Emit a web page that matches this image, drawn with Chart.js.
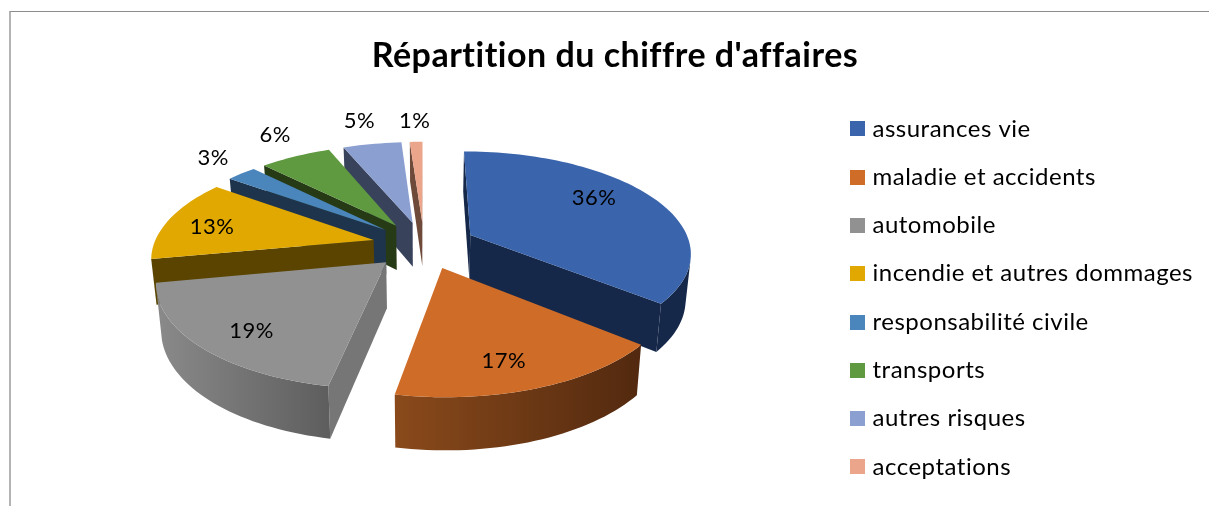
<!DOCTYPE html>
<html lang="fr">
<head>
  <meta charset="UTF-8">
  <title>Répartition du chiffre d'affaires</title>
  <script src="https://cdn.jsdelivr.net/npm/chart.js"></script>
  <style>
    html, body { margin: 0; padding: 0; background: #fff; overflow: hidden; }
    .frame {
      position: absolute; left: 9px; top: 11px; width: 1200px; height: 495px;
      border-left: 2px solid #b4b4b4; border-top: 1px solid #8c8c8c;
    }
    canvas { display: block; }
  </style>
</head>
<body>
  <div class="frame"><canvas id="caChart" width="1198" height="494"></canvas></div>

  <script>
    const categories = ['assurances vie', 'maladie et accidents', 'automobile', 'incendie et autres dommages',
      'responsabilité civile', 'transports', 'autres risques', 'acceptations'];
    // the labels below are the rounded ones printed on the chart
    const values = [36, 17, 19, 13, 2.6, 6.2, 5.1, 1.1];
    const percentLabels = ['36%', '17%', '19%', '13%', '3%', '6%', '5%', '1%'];

    const topColors = ['#3A64AC', '#CE6C28', '#919191', '#E0A800', '#4A85BB', '#5F9940', '#8B9FD1', '#EBA58A'];
    const cutColors = ['#16284A', '#542A0F', '#767676', '#5A4400', '#1E344D', '#263A15', '#38425B', '#6E4A3A'];
    // outer wall, left and right end of the gradient
    const wallColors = [
      ['#16284A', '#16284A'], ['#8A4A1B', '#52290F'], ['#8A8A8A', '#5E5E5E'], ['#5A4400', '#5A4400'],
      ['#1E344D', '#1E344D'], ['#263A15', '#263A15'], ['#38425B', '#38425B'], ['#6E4A3A', '#6E4A3A']
    ];
    // where the percent goes, as [distance from centre, turn in degrees] in pie units
    const labelSpots = [[215, -6], [225, 2.4], [225, -2.7], [222, -2], [332, 1.7], [345, 1.9], [350, -0.2], [340, 0]];

    // 3D view, canvas origin is at (11,12) in the page
    const view = { cx: 413, cy: 233, radius: 220, explode: 52, tilt: 0.455, persp: 0.00073, depth: 46, far: 0.02 };

    function project(x, y, bottom) {
      const w = (1 - view.persp * y) * (bottom ? 1 + view.far : 1);
      return { x: view.cx + x / w, y: view.cy + (view.tilt * y + (bottom ? view.depth : 0)) / w };
    }

    function quad(ctx, pts) {
      ctx.beginPath();
      pts.forEach((p, i) => (i ? ctx.lineTo(p.x, p.y) : ctx.moveTo(p.x, p.y)));
      ctx.closePath();
    }

    function area(pts) {
      let s = 0;
      pts.forEach((p, i) => {
        const q = pts[(i + 1) % pts.length];
        s += p.x * q.y - q.x * p.y;
      });
      return s;
    }

    function drawSlice(ctx, arc, i) {
      const mid = (arc.startAngle + arc.endAngle) / 2;
      const ox = Math.cos(mid) * view.explode;
      const oy = Math.sin(mid) * view.explode;
      const rimPoint = (a, bottom) =>
        project(ox + Math.cos(a) * view.radius, oy + Math.sin(a) * view.radius, bottom);

      const steps = Math.max(2, Math.ceil((arc.endAngle - arc.startAngle) / 0.03));
      const angles = [];
      for (let s = 0; s <= steps; s++) angles.push(arc.startAngle + (arc.endAngle - arc.startAngle) * s / steps);

      // cut faces
      const apexT = project(ox, oy, false);
      const apexB = project(ox, oy, true);
      ctx.fillStyle = cutColors[i];
      const a = [rimPoint(arc.startAngle, false), apexT, apexB, rimPoint(arc.startAngle, true)];
      if (area(a) > 0) { quad(ctx, a); ctx.fill(); }
      const b = [apexT, rimPoint(arc.endAngle, false), rimPoint(arc.endAngle, true), apexB];
      if (area(b) > 0) { quad(ctx, b); ctx.fill(); }

      // outer wall, only the part that faces the viewer, as one shape
      const front = angles.filter((v, s) => {
        const n = s < steps ? angles[s + 1] : angles[s - 1];
        const f = [rimPoint(v, false), rimPoint(n, false), rimPoint(n, true), rimPoint(v, true)];
        return s < steps ? area(f) < 0 : area(f) > 0;
      });
      if (front.length > 1) {
        const tops = front.map(v => rimPoint(v, false));
        const grad = ctx.createLinearGradient(Math.min(...tops.map(p => p.x)), 0, Math.max(...tops.map(p => p.x)), 0);
        grad.addColorStop(0, wallColors[i][0]);
        grad.addColorStop(1, wallColors[i][1]);
        ctx.fillStyle = grad;
        quad(ctx, [...tops, ...front.slice().reverse().map(v => rimPoint(v, true))]);
        ctx.fill();
      }

      // top face
      quad(ctx, [apexT, ...angles.map(v => rimPoint(v, false))]);
      ctx.fillStyle = topColors[i];
      ctx.fill();
    }

    const pie3d = {
      id: 'pie3d',
      beforeLayout(chart) {
        // any spacing switches off the Lato ligatures, the original has none
        chart.ctx.letterSpacing = '0.5px';
      },
      beforeDraw(chart) {
        chart.ctx.letterSpacing = '0.5px';
      },
      beforeDatasetsDraw(chart) {
        const ctx = chart.ctx;
        const arcs = chart.getDatasetMeta(0).data;
        const order = arcs.map((arc, i) => i)
          .sort((p, q) => Math.sin((arcs[p].startAngle + arcs[p].endAngle) / 2) - Math.sin((arcs[q].startAngle + arcs[q].endAngle) / 2));
        ctx.save();
        order.forEach(i => drawSlice(ctx, arcs[i], i));

        ctx.font = '22px Lato, sans-serif';
        ctx.fillStyle = '#000';
        ctx.textAlign = 'center';
        ctx.textBaseline = 'middle';
        arcs.forEach((arc, i) => {
          const mid = (arc.startAngle + arc.endAngle) / 2 + labelSpots[i][1] * Math.PI / 180;
          const p = project(Math.cos(mid) * labelSpots[i][0], Math.sin(mid) * labelSpots[i][0], false);
          ctx.fillText(percentLabels[i], p.x, p.y);
        });
        ctx.restore();
        return false;
      }
    };

    // legend squares as small canvases, so the text can sit close to them
    function swatch(color) {
      const c = document.createElement('canvas');
      c.width = 15;
      c.height = 15;
      const g = c.getContext('2d');
      g.fillStyle = color;
      g.fillRect(0, 0, 15, 15);
      return c;
    }

    new Chart(document.getElementById('caChart'), {
      type: 'pie',
      data: {
        labels: categories,
        datasets: [{ data: values, backgroundColor: topColors, borderWidth: 0 }]
      },
      options: {
        responsive: false,
        animation: false,
        layout: { padding: { left: 16, right: 6, bottom: 0 } },
        plugins: {
          tooltip: { enabled: false },
          title: {
            display: true,
            text: "Répartition du chiffre d'affaires",
            color: '#000',
            font: { family: 'Lato, sans-serif', size: 34, weight: 'bold' },
            padding: { top: 24, bottom: 13 }
          },
          legend: {
            position: 'right',
            fullSize: false,
            labels: {
              color: '#000',
              font: { family: 'Lato, sans-serif', size: 24 },
              usePointStyle: true,
              pointStyleWidth: 6,
              padding: 24.3,
              generateLabels: chart => Chart.overrides.pie.plugins.legend.labels.generateLabels(chart)
                .map((item, i) => ({ ...item, pointStyle: swatch(topColors[i]) }))
            }
          }
        }
      },
      plugins: [pie3d]
    });
  </script>
</body>
</html>
